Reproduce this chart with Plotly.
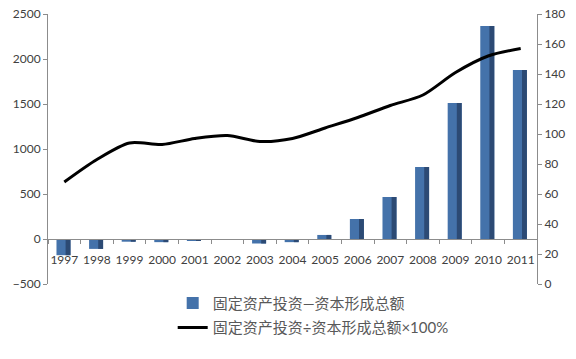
import plotly.graph_objects as go

years = ["1997", "1998", "1999", "2000", "2001", "2002", "2003", "2004",
         "2005", "2006", "2007", "2008", "2009", "2010", "2011"]
diff_values = [-180, -110, -30, -35, -20, -5, -50, -35, 45, 222, 467, 800, 1511, 2367, 1878]
ratio_values = [68, 83, 94, 93, 97, 99, 95, 97, 104, 111, 119, 126, 141, 152, 157]

left_ticks = [-500, 0, 500, 1000, 1500, 2000, 2500]
right_ticks = [0, 20, 40, 60, 80, 100, 120, 140, 160, 180]

name_bar = "固定资产投资—资本形成总额"
name_line = "固定资产投资÷资本形成总额×100%"

FONT = "Lato, 'Noto Sans CJK SC', sans-serif"
TXT = "#404040"
AX = "#8c8c8c"

fig = go.Figure()
fig.add_trace(go.Bar(x=years, y=diff_values, name=name_bar, legendgroup="a",
                     marker=dict(color="#4472aa", line=dict(width=0)),
                     width=0.43, offset=-0.24, yaxis="y"))
fig.add_trace(go.Bar(x=years, y=diff_values, showlegend=False, hoverinfo="skip",
                     legendgroup="a",
                     marker=dict(color="#2c4a74", line=dict(width=0)),
                     width=0.15, offset=0.04, yaxis="y"))
fig.add_trace(go.Scatter(x=years, y=ratio_values, name=name_line, mode="lines",
                         legendgroup="b",
                         line=dict(color="black", width=3, shape="spline", smoothing=0.8),
                         yaxis="y2"))

fig.update_layout(
    width=576, height=359,
    margin=dict(l=48, r=39, t=14, b=75, autoexpand=False),
    paper_bgcolor="white", plot_bgcolor="white",
    font=dict(family=FONT, size=12, color=TXT),
    barmode="overlay",
    showlegend=True,
    legend=dict(orientation="v", x=0.255, xanchor="left", y=-0.01, yanchor="top",
                font=dict(size=15, color="#595959"), tracegroupgap=2,
                bgcolor="rgba(0,0,0,0)"),
    xaxis=dict(type="category", anchor="free", position=1/6, automargin=False,
               showline=True, linecolor=AX, linewidth=1, tickangle=0,
               ticks="outside", ticklen=4, tickcolor=AX, tickson="boundaries",
               ticklabelstandoff=10,
               showgrid=False, tickfont=dict(size=12, color=TXT)),
    yaxis=dict(range=[-500, 2500], tickvals=left_ticks, showgrid=False, zeroline=False,
               automargin=False,
               showline=True, linecolor=AX, ticks="outside", ticklen=4, tickcolor=AX,
               tickfont=dict(size=12, color=TXT)),
    yaxis2=dict(range=[0, 180], tickvals=right_ticks, overlaying="y", side="right",
                automargin=False,
                showgrid=False, zeroline=False, showline=True, linecolor=AX,
                ticks="outside", ticklen=4, tickcolor=AX,
                tickfont=dict(size=12, color=TXT)),
)

fig.write_html("out.html", config={"displayModeBar": False},
               post_script="document.body.style.margin='0';document.body.style.overflow='hidden';")
